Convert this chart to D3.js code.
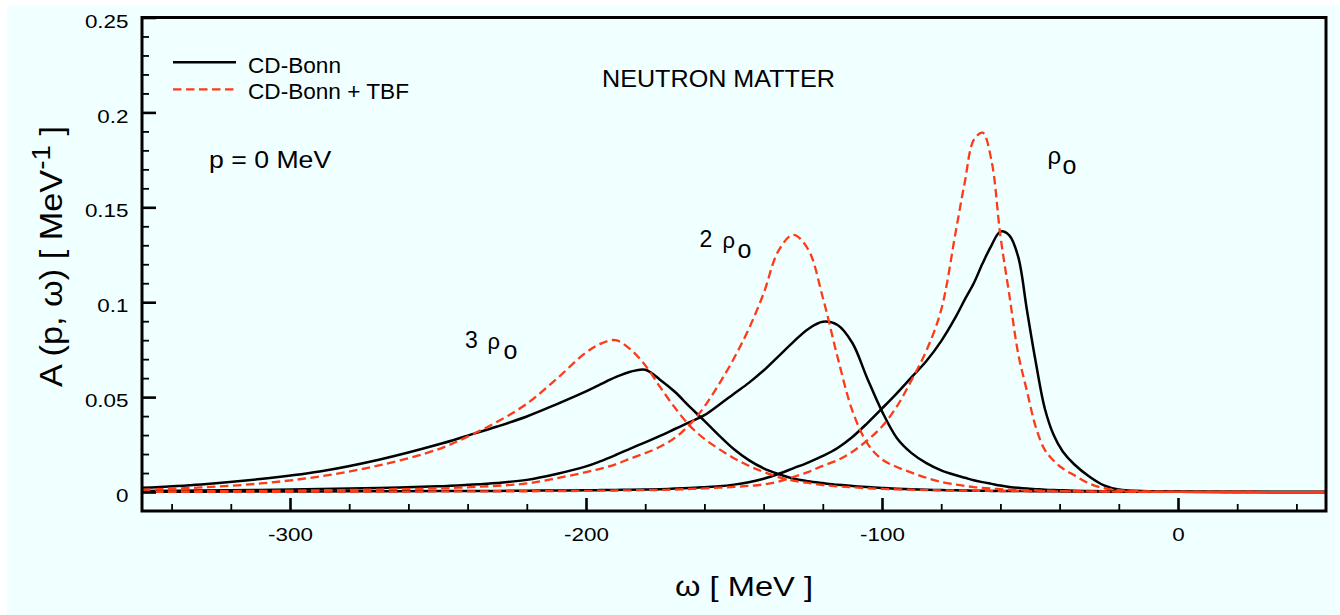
<!DOCTYPE html>
<html>
<head>
<meta charset="utf-8">
<script src="https://cdn.jsdelivr.net/npm/d3@7"></script>
<style>
  html, body { margin: 0; padding: 0; background: #ffffff; }
  svg { display: block; font-family: "Liberation Sans", Arial, Helvetica, sans-serif; }
</style>
</head>
<body>
<svg id="chart" width="1340" height="615"></svg>
<script>
// Energy grid ω [MeV] shared by all curves
const omega = [-350,-330,-310,-290,-270,-250,-240,-230,-220,-210,-200,-195,-190,-185,-180,-175,-170,-165,-160,-155,-150,-145,-140,-135,-130,-125,-120,-115,-110,-105,-100,-95,-90,-85,-80,-75,-72,-69,-66,-63,-60,-57,-54,-51,-48,-45,-42,-39,-35,-30,-25,-20,-10,0,25,50];

// Spectral function A(p=0, ω) [MeV^-1], CD-Bonn
const bonnRho1 = [0.0002,0.0002,0.0003,0.0003,0.0004,0.0005,0.0005,0.0006,0.0007,0.0008,0.0009,0.0010,0.0011,0.0012,0.0013,0.0015,0.0018,0.0021,0.0025,0.0030,0.0039,0.0052,0.0070,0.0095,0.0125,0.0155,0.0190,0.0232,0.0290,0.0362,0.0440,0.0520,0.0605,0.0690,0.0795,0.0925,0.1015,0.1100,0.1205,0.1300,0.1372,0.1352,0.1240,0.0955,0.0680,0.0440,0.0300,0.0215,0.0145,0.0082,0.0035,0.0013,0.0004,0.0002,0.0001,0];
const bonnRho2 = [0.0006,0.0008,0.0011,0.0016,0.0021,0.0030,0.0038,0.0048,0.0064,0.0095,0.0135,0.0163,0.0195,0.0229,0.0262,0.0296,0.0332,0.0368,0.0405,0.0460,0.0518,0.0575,0.0640,0.0715,0.0790,0.0858,0.0897,0.0880,0.0785,0.0600,0.0425,0.0285,0.0205,0.0152,0.0114,0.0088,0.0075,0.0062,0.0052,0.0043,0.0034,0.0027,0.0022,0.0018,0.0015,0.0012,0.0010,0.0009,0.0007,0.0005,0.0004,0.0003,0.0002,0.0001,0,0];
const bonnRho3 = [0.0022,0.0040,0.0068,0.0108,0.0170,0.0250,0.0297,0.0345,0.0398,0.0462,0.0530,0.0568,0.0605,0.0634,0.0644,0.0592,0.0528,0.0450,0.0375,0.0297,0.0225,0.0168,0.0125,0.0095,0.0071,0.0057,0.0047,0.0038,0.0032,0.0026,0.0021,0.0017,0.0014,0.0012,0.0010,0.0009,0.0008,0.0007,0.0007,0.0006,0.0006,0.0005,0.0005,0.0005,0.0004,0.0004,0.0004,0.0003,0.0003,0.0003,0.0002,0.0002,0.0001,0.0001,0,0];

// Spectral function A(p=0, ω) [MeV^-1], CD-Bonn + TBF
const tbfRho1 = [0.0001,0.0001,0.0001,0.0002,0.0002,0.0003,0.0003,0.0004,0.0004,0.0005,0.0006,0.0007,0.0008,0.0009,0.0010,0.0011,0.0013,0.0016,0.0019,0.0023,0.0027,0.0032,0.0040,0.0055,0.0079,0.0105,0.0138,0.0168,0.0212,0.0272,0.0345,0.0450,0.0590,0.0745,0.0960,0.1380,0.1635,0.1855,0.1893,0.1745,0.1350,0.1040,0.0730,0.0530,0.0340,0.0222,0.0165,0.0125,0.0088,0.0045,0.0020,0.0010,0.0003,0.0001,0,0];
const tbfRho2 = [0.0003,0.0004,0.0006,0.0009,0.0013,0.0019,0.0025,0.0033,0.0045,0.0072,0.0105,0.0123,0.0146,0.0176,0.0205,0.0238,0.0285,0.0355,0.0450,0.0570,0.0705,0.0860,0.1046,0.1270,0.1355,0.1280,0.1025,0.0710,0.0428,0.0258,0.0172,0.0132,0.0102,0.0075,0.0053,0.0039,0.0032,0.0026,0.0022,0.0018,0.0015,0.0012,0.0010,0.0009,0.0008,0.0007,0.0006,0.0005,0.0004,0.0003,0.0003,0.0002,0.0001,0.0001,0,0];
const tbfRho3 = [0.0013,0.0024,0.0045,0.0082,0.0140,0.0225,0.0292,0.0370,0.0465,0.0595,0.0735,0.0782,0.0800,0.0752,0.0668,0.0554,0.0445,0.0350,0.0280,0.0226,0.0178,0.0138,0.0106,0.0079,0.0060,0.0048,0.0037,0.0030,0.0025,0.0020,0.0017,0.0014,0.0012,0.0010,0.0009,0.0008,0.0007,0.0007,0.0006,0.0006,0.0005,0.0005,0.0005,0.0004,0.0004,0.0004,0.0003,0.0003,0.0003,0.0002,0.0002,0.0002,0.0001,0.0001,0,0];

// Axis ticks
const xMajorTicks = [-300, -200, -100, 0];
const xTickLabels = ["-300", "-200", "-100", "0"];
const xMinorTicks = [-340,-320,-280,-260,-240,-220,-180,-160,-140,-120,-80,-60,-40,-20,20,40];
const yMajorTicks = [0, 0.05, 0.1, 0.15, 0.2, 0.25];
const yTickLabels = ["0", "0.05", "0.1", "0.15", "0.2", "0.25"];
const yMinorTicks = [0.01,0.02,0.03,0.04,0.06,0.07,0.08,0.09,0.11,0.12,0.13,0.14,0.16,0.17,0.18,0.19,0.21,0.22,0.23,0.24];

// Legend entries
const legendLabels = ["CD-Bonn", "CD-Bonn + TBF"];

const RED = "#ff3a17";
const BG = "#f0ffff";

const svg = d3.select("#chart");

// Panel background
svg.append("rect").attr("x", 7).attr("y", 5).attr("width", 1333).attr("height", 610).attr("fill", BG);

const plotLeft = 142, plotRight = 1326, plotTop = 17.5, plotBottom = 511;
const x = d3.scaleLinear().domain([-350, 50]).range([plotLeft, plotRight]);
const y = d3.scaleLinear().domain([-0.01, 0.25]).range([plotBottom, plotTop]);

svg.append("defs").append("clipPath").attr("id", "plotClip")
  .append("rect").attr("x", plotLeft).attr("y", plotTop)
  .attr("width", plotRight - plotLeft).attr("height", plotBottom - plotTop);

// Helper: draw a text and stretch it horizontally to a given advance width
function fitText(parent, str, px, py, size, width, anchor, rotate) {
  const t = parent.append("text")
    .attr("font-size", size)
    .attr("fill", "#000")
    .attr("text-anchor", anchor || "start")
    .text(str);
  const w = t.node().getBBox().width;
  const s = width ? width / w : 1;
  t.attr("transform", `translate(${px},${py})` + (rotate ? ` rotate(${rotate})` : "") + ` scale(${s},1)`);
  return t;
}

// Curves
const line = d3.line()
  .x((d, i) => x(omega[i]))
  .y(d => y(d))
  .curve(d3.curveCatmullRom.alpha(0.5));

const curves = svg.append("g").attr("clip-path", "url(#plotClip)");
[bonnRho1, bonnRho2, bonnRho3].forEach(s => {
  curves.append("path").attr("d", line(s))
    .attr("fill", "none").attr("stroke", "#000").attr("stroke-width", 2.5)
    .attr("stroke-linejoin", "round");
});
[tbfRho1, tbfRho2, tbfRho3].forEach(s => {
  curves.append("path").attr("d", line(s))
    .attr("fill", "none").attr("stroke", RED).attr("stroke-width", 2.3)
    .attr("stroke-dasharray", "8.5,4.5");
});

// Bottom axis: major and minor ticks pointing inward
const gx = svg.append("g").attr("transform", `translate(0,${plotBottom})`)
  .call(d3.axisBottom(x).tickValues(xMajorTicks).tickSize(-13).tickFormat((d, i) => xTickLabels[i]));
gx.select(".domain").remove();
gx.selectAll(".tick line").attr("stroke", "#000").attr("stroke-width", 2.6);
gx.selectAll(".tick text")
  .attr("y", null).attr("dy", null)
  .attr("font-size", 19).attr("fill", "#000")
  .attr("transform", "translate(0,29.7) scale(1.18,1)");
gx.attr("font-family", null);

const gxm = svg.append("g").attr("transform", `translate(0,${plotBottom})`)
  .call(d3.axisBottom(x).tickValues(xMinorTicks).tickSize(-7).tickFormat(""));
gxm.select(".domain").remove();
gxm.selectAll(".tick line").attr("stroke", "#000").attr("stroke-width", 1.8);

// Left axis
const gy = svg.append("g").attr("transform", `translate(${plotLeft},0)`)
  .call(d3.axisLeft(y).tickValues(yMajorTicks).tickSize(-14).tickFormat((d, i) => yTickLabels[i]));
gy.select(".domain").remove();
gy.selectAll(".tick line").attr("stroke", "#000").attr("stroke-width", 2.6);
gy.selectAll(".tick text")
  .attr("x", null).attr("dy", null)
  .attr("font-size", 19).attr("fill", "#000")
  .attr("text-anchor", "end")
  .attr("transform", "translate(-13.5,9.6) scale(1.18,1)");
gy.attr("font-family", null);

const gym = svg.append("g").attr("transform", `translate(${plotLeft},0)`)
  .call(d3.axisLeft(y).tickValues(yMinorTicks).tickSize(-7).tickFormat(""));
gym.select(".domain").remove();
gym.selectAll(".tick line").attr("stroke", "#000").attr("stroke-width", 1.8);

// Frame
svg.append("rect").attr("x", plotLeft).attr("y", plotTop)
  .attr("width", plotRight - plotLeft).attr("height", plotBottom - plotTop)
  .attr("fill", "none").attr("stroke", "#000").attr("stroke-width", 3);

// Axis titles
fitText(svg, "ω [ MeV ]", 744, 596, 27, 138, "middle");

const yTitle = svg.append("text").attr("font-size", 32).attr("fill", "#000").attr("text-anchor", "middle");
yTitle.append("tspan").text("A (p, ω) [ MeV");
yTitle.append("tspan").attr("font-size", 26).attr("dy", -12).text("-1");
yTitle.append("tspan").attr("dy", 12).text(" ]");
{
  const w = yTitle.node().getBBox().width;
  yTitle.attr("transform", `translate(61.7,256.5) rotate(-90) scale(${261 / w},1)`);
}

// Legend
const legend = svg.append("g");
legend.append("line").attr("x1", 173).attr("x2", 236).attr("y1", 62.3).attr("y2", 62.3)
  .attr("stroke", "#000").attr("stroke-width", 2.5);
legend.append("line").attr("x1", 173).attr("x2", 236).attr("y1", 89.3).attr("y2", 89.3)
  .attr("stroke", RED).attr("stroke-width", 2.3).attr("stroke-dasharray", "8.5,4.5");
fitText(legend, legendLabels[0], 248, 72.7, 22, 93, "start");
fitText(legend, legendLabels[1], 248, 99.3, 22, 161, "start");

// Annotations
fitText(svg, "NEUTRON MATTER", 602, 87.3, 24, 233, "start");
fitText(svg, "p = 0 MeV", 209, 168.3, 23, 123, "start");

// Density labels
fitText(svg, "ρ", 1047.5, 163.5, 24, null, "start");
fitText(svg, "o", 1062.5, 174, 25, null, "start");

fitText(svg, "2", 699.5, 246.7, 23, null, "start");
fitText(svg, "ρ", 722.5, 247.5, 22, null, "start");
fitText(svg, "o", 737.5, 258.3, 25, null, "start");

fitText(svg, "3", 465, 347.7, 23, null, "start");
fitText(svg, "ρ", 487.5, 349, 22, null, "start");
fitText(svg, "o", 503.5, 359, 25, null, "start");
</script>
</body>
</html>
